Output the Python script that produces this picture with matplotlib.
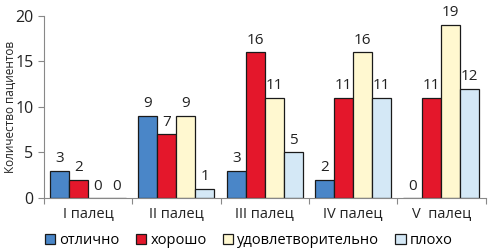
import numpy as np
import matplotlib
matplotlib.use('Agg')
import matplotlib.pyplot as plt

plt.rcParams['font.family'] = ['Open Sans', 'DejaVu Sans']

categories = ['I палец', 'II палец', 'III палец', 'IV палец', 'V  палец']
series_names = ['отлично', 'хорошо', 'удовлетворительно', 'плохо']
excellent = [3, 9, 3, 2, 0]
good = [2, 7, 16, 11, 11]
satisfactory = [0, 9, 11, 16, 19]
poor = [0, 1, 5, 11, 12]
colors = ['#4a86c8', '#e4172b', '#fff8d0', '#d4e8f6']

fig = plt.figure(figsize=(4.88, 2.52), dpi=100)
ax = fig.add_axes([0.09, 0.214, 0.905, 0.724])

x = np.arange(len(categories))
w = 0.215
values = [excellent, good, satisfactory, poor]
for i, (vals, col, name) in enumerate(zip(values, colors, series_names)):
    pos = x + (i - 1.5) * w
    ax.bar(pos, vals, w, color=col, edgecolor='#1a1a1a', linewidth=0.9, label=name)
    for p, v in zip(pos, vals):
        ax.text(p, v + 0.5, str(v), ha='center', va='bottom', fontsize=11, color='#222222')

ax.set_xlim(-0.5, len(categories) - 0.5)
ax.set_ylim(0, 20)
ax.set_yticks([0, 5, 10, 15, 20])
ax.tick_params(axis='y', labelsize=11.5, colors='#222222', length=4, color='#888888')
ax.set_xticks(np.arange(len(categories) + 1) - 0.5)
ax.set_xticklabels([])
ax.tick_params(axis='x', length=4, color='#888888')
for i, c in enumerate(categories):
    ax.text(i, -1.7, c, ha='center', va='center', fontsize=10.5, color='#222222')
for s in ['top', 'right']:
    ax.spines[s].set_visible(False)
for s in ['left', 'bottom']:
    ax.spines[s].set_color('#888888')
ax.set_ylabel('Количество пациентов', fontsize=8.5, color='#222222')
ax.yaxis.set_label_coords(-0.062, 0.5)

fig.legend(loc='center', bbox_to_anchor=(0.51, 0.045), ncol=4, frameon=False,
           fontsize=10.5, handlelength=0.7, handleheight=0.7, handletextpad=0.3,
           columnspacing=1.1)

fig.savefig('out.png', dpi=100)
